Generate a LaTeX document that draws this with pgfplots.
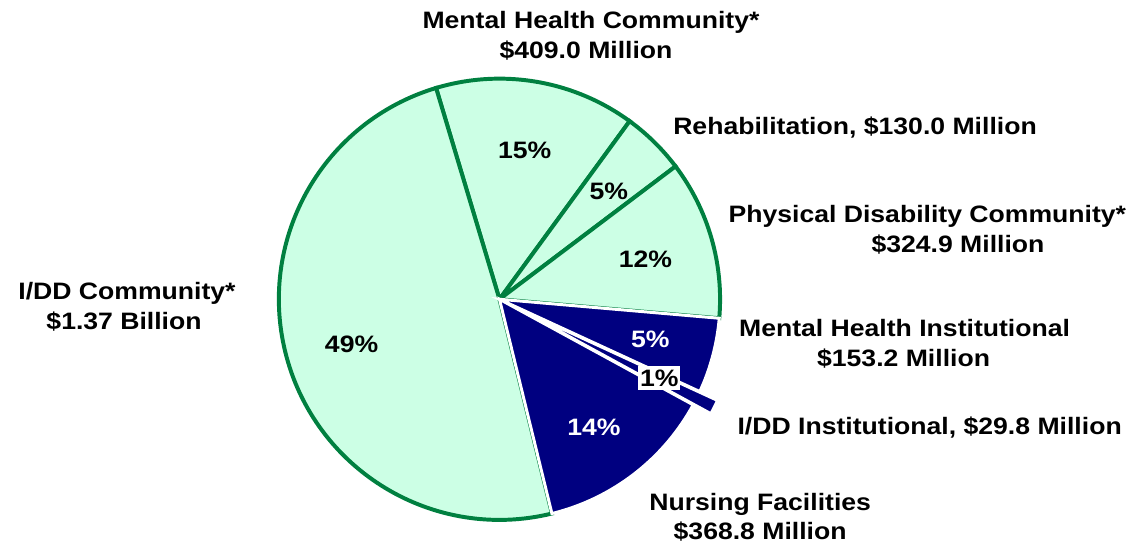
\documentclass[border=0pt]{standalone}
\usepackage{pgfplots}
\usepackage{pgfplotstable}
\pgfplotsset{compat=1.18}
\usepackage{fontspec}
\setmainfont{Liberation Sans}[FakeStretch=1.12]
\usetikzlibrary{calc}

\definecolor{mint}{RGB}{204,255,229}
\definecolor{edgegreen}{RGB}{0,128,64}
\definecolor{navyblue}{RGB}{0,0,128}

\newcommand\lab{\fontsize{24bp}{28bp}\selectfont\bfseries}

% spending by sector, millions of dollars, clockwise from the top
\pgfplotstableread{
sector value
MHC 409.0
Rehab 130.0
PDC 324.9
MHI 153.2
IDDI 29.8
NF 368.8
IDDC 1370.0
}\pietable

% slice: row, fill, stroke, line width, explode
\newcommand\slice[5]{%
  \filldraw[fill=#2,draw=#3,line width=#4,line join=miter,miter limit=20]
    ($(axis cs:492.5,302.5)+({(\csname pa#1\endcsname+\csname pb#1\endcsname)/2}:#5)$)
    -- ++(\csname pa#1\endcsname:223bp)
    arc[start angle=\csname pa#1\endcsname,end angle=\csname pb#1\endcsname,radius=223bp]
    -- cycle;}

\begin{document}
\xdef\pietotal{0}
\foreach \r in {0,...,6}{%
  \pgfplotstablegetelem{\r}{value}\of\pietable
  \pgfmathsetmacro\t{\pietotal+\pgfplotsretval}\xdef\pietotal{\t}}
\xdef\pieang{106.7}
\foreach \r in {0,...,6}{%
  \pgfplotstablegetelem{\r}{value}\of\pietable
  \pgfmathsetmacro\e{\pieang-\pgfplotsretval/\pietotal*360}%
  \expandafter\xdef\csname pa\r\endcsname{\pieang}%
  \expandafter\xdef\csname pb\r\endcsname{\e}%
  \xdef\pieang{\e}}
\begin{tikzpicture}
\begin{axis}[
    width=1141bp, height=552bp,
    scale only axis,
    xmin=0, xmax=1141,
    ymin=0, ymax=552,
    y dir=reverse,
    hide axis,
    clip=false,
]
\coordinate (bl) at (axis cs:0,552);
\coordinate (tr) at (axis cs:1141,0);
% light slices
\slice{0}{mint}{edgegreen}{4bp}{0bp}
\slice{1}{mint}{edgegreen}{4bp}{0bp}
\slice{2}{mint}{edgegreen}{4bp}{0bp}
\slice{6}{mint}{edgegreen}{4bp}{0bp}
% dark slices
\slice{3}{navyblue}{white}{3bp}{0bp}
\slice{5}{navyblue}{white}{3bp}{0bp}
\slice{4}{navyblue}{white}{3bp}{20bp}

% percentages
\node[font=\lab] at (axis cs:518,152) {15\%};
\node[font=\lab] at (axis cs:603,193) {5\%};
\node[font=\lab] at (axis cs:640,262) {12\%};
\node[font=\lab] at (axis cs:343,348) {49\%};
\node[font=\lab,text=white] at (axis cs:645,343) {5\%};
\node[font=\lab,fill=white,inner xsep=2bp,inner ysep=4bp] at (axis cs:654,382) {1\%};
\node[font=\lab,text=white] at (axis cs:588,432) {14\%};

% sector names
\begin{scope}[every node/.style={font=\lab,inner sep=0pt}]
\node[anchor=base] at (axis cs:585,29) {Mental Health Community*};
\node[anchor=base] at (axis cs:580,59) {\$409.0 Million};
\node[anchor=base west] at (axis cs:668,136) {Rehabilitation, \$130.0 Million};
\node[anchor=base] at (axis cs:925,225) {Physical Disability Community*};
\node[anchor=base] at (axis cs:956,255) {\$324.9 Million};
\node[anchor=base] at (axis cs:116,303) {I/DD Community*};
\node[anchor=base] at (axis cs:113,333) {\$1.37 Billion};
\node[anchor=base] at (axis cs:902,340) {Mental Health Institutional};
\node[anchor=base] at (axis cs:901,370) {\$153.2 Million};
\node[anchor=base west] at (axis cs:733,439) {I/DD Institutional, \$29.8 Million};
\node[anchor=base] at (axis cs:756,516) {Nursing Facilities};
\node[anchor=base] at (axis cs:756,545) {\$368.8 Million};
\end{scope}
\end{axis}
\pgfresetboundingbox
\path[use as bounding box] (bl) rectangle (tr);
\end{tikzpicture}
\end{document}
